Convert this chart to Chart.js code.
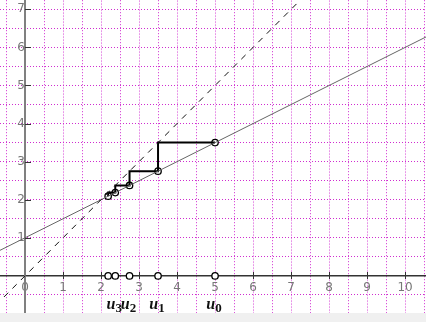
<!DOCTYPE html>
<html>
<head>
<meta charset="utf-8">
<script src="https://cdn.jsdelivr.net/npm/chart.js@4/dist/chart.umd.min.js"></script>
<style>
  html, body { margin: 0; padding: 0; background: #f0f0f0; }
  #wrap { position: relative; width: 426px; height: 313px; background: #ffffff; overflow: hidden; }
  #inner { position: absolute; left: 0; top: 0; width: 426px; height: 313px; }
</style>
</head>
<body>
<div id="wrap"><div id="inner"><canvas id="c"></canvas></div></div>
<script>
// ---- data ----
const diagX = [-1, 8];
const diagY = [-1, 8];
const lineX = [-1, 11];
const lineY = [0.5, 6.5];
const stairX = [5, 3.5, 3.5, 2.75, 2.75, 2.375, 2.375, 2.1875, 2.1875];
const stairY = [3.5, 3.5, 2.75, 2.75, 2.375, 2.375, 2.1875, 2.1875, 2.09375];
const uValues = [5, 3.5, 2.75, 2.375, 2.1875];
const fValues = [3.5, 2.75, 2.375, 2.1875, 2.09375];
const uLabels = ['0', '1', '2', '3'];
const xRange = [-0.658, 10.55];
const yRange = [-0.98, 7.24];

const pts = (xs, ys) => xs.map((x, i) => ({ x: x, y: ys[i] }));
const isInt = v => Math.abs(v - Math.round(v)) < 1e-9;

// small tick marks on the axes through the origin
const tickPlugin = {
  id: 'axisTicks',
  beforeDatasetsDraw(chart) {
    const ctx = chart.ctx;
    const xs = chart.scales.x, ys = chart.scales.y;
    const x0 = Math.round(xs.getPixelForValue(0));
    const y0 = Math.round(ys.getPixelForValue(0));
    ctx.save();
    ctx.strokeStyle = '#333';
    ctx.lineWidth = 1;
    ctx.beginPath();
    xs.ticks.forEach(t => {
      if (isInt(t.value) && t.value !== 0) {
        const px = Math.round(xs.getPixelForValue(t.value)) + 0.5;
        ctx.moveTo(px, y0 - 4); ctx.lineTo(px, y0 + 3);
      }
    });
    ys.ticks.forEach(t => {
      if (isInt(t.value) && t.value !== 0) {
        const py = Math.round(ys.getPixelForValue(t.value)) + 0.5;
        ctx.moveTo(x0, py); ctx.lineTo(x0 + 6, py);
      }
    });
    ctx.stroke();
    ctx.restore();
  }
};

const labelPlugin = {
  id: 'uLabels',
  afterDatasetsDraw(chart) {
    const ctx = chart.ctx;
    const xs = chart.scales.x, ys = chart.scales.y;
    const base = ys.getPixelForValue(0) + 33;
    ctx.save();
    ctx.fillStyle = '#111';
    ctx.textBaseline = 'alphabetic';
    ctx.textAlign = 'left';
    uLabels.forEach((s, i) => {
      const px = xs.getPixelForValue(uValues[i]);
      ctx.font = 'bold italic 16px "Liberation Serif"';
      const w1 = ctx.measureText('u').width;
      ctx.font = 'bold 13px "Liberation Serif"';
      const w2 = ctx.measureText(s).width;
      const left = px - (w1 + w2) / 2 - 1;
      ctx.font = 'bold italic 16px "Liberation Serif"';
      ctx.fillText('u', left, base);
      ctx.font = 'bold 13px "Liberation Serif"';
      ctx.fillText(s, left + w1, base + 3);
    });
    ctx.restore();
  }
};

const chart = new Chart(document.getElementById('c'), {
  type: 'scatter',
  data: {
    datasets: [
      { data: pts(diagX, diagY), showLine: true, borderColor: '#111', borderWidth: 1, borderDash: [6, 6], pointRadius: 0 },
      { data: pts(lineX, lineY), showLine: true, borderColor: '#666', borderWidth: 1, pointRadius: 0 },
      { data: pts(stairX, stairY), showLine: true, borderColor: '#000', borderWidth: 2, pointRadius: 0 },
      { data: pts(uValues, fValues), showLine: false, pointRadius: 3.2, pointBackgroundColor: '#fff', pointBorderColor: '#000', pointBorderWidth: 1.3 },
      { data: pts(uValues, uValues.map(() => 0)), showLine: false, pointRadius: 3.2, pointBackgroundColor: '#fff', pointBorderColor: '#000', pointBorderWidth: 1.3 }
    ]
  },
  options: {
    responsive: true,
    maintainAspectRatio: false,
    animation: false,
    events: [],
    layout: { padding: 0, autoPadding: false },
    plugins: { legend: { display: false }, tooltip: { enabled: false } },
    scales: {
      x: {
        type: 'linear',
        min: xRange[0], max: xRange[1],
        position: { y: 0 },
        ticks: {
          stepSize: 0.5, includeBounds: false, autoSkip: false, maxRotation: 0,
          callback: v => isInt(v) ? String(v) : '',
          color: '#777', font: { family: 'DejaVu Sans', size: 12 }, padding: 5
        },
        grid: {
          color: c => isInt(c.tick.value) ? '#e896e8' : '#d02cd0',
          lineWidth: 1, drawTicks: false
        },
        border: {
          display: true, color: '#333', width: 1.5,
          dash: c => (c.tick && isInt(c.tick.value)) ? [2, 1] : [1, 2]
        }
      },
      y: {
        type: 'linear',
        min: yRange[0], max: yRange[1],
        position: { x: 0 },
        ticks: {
          stepSize: 0.5, includeBounds: false, autoSkip: false,
          callback: v => (isInt(v) && Math.round(v) !== 0) ? String(v) : '',
          color: '#777', font: { family: 'DejaVu Sans', size: 12 }, padding: 4
        },
        grid: {
          color: '#d02cd0',
          lineWidth: 1, drawTicks: false
        },
        border: { display: true, color: '#808080', width: 2, dash: [1, 2] }
      }
    }
  },
  plugins: [tickPlugin, labelPlugin]
});

// make the chart area fill the visible 426x313 region
(function fitArea() {
  const inner = document.getElementById('inner');
  const W = 426, H = 313;
  const a = chart.chartArea;
  const padTop = a.top, padBottom = chart.height - a.bottom;
  const padLeft = a.left, padRight = chart.width - a.right;
  inner.style.top = (-padTop) + 'px';
  inner.style.left = (-padLeft) + 'px';
  inner.style.height = (H + padTop + padBottom) + 'px';
  inner.style.width = (W + padLeft + padRight) + 'px';
  chart.resize();
})();
</script>
</body>
</html>
